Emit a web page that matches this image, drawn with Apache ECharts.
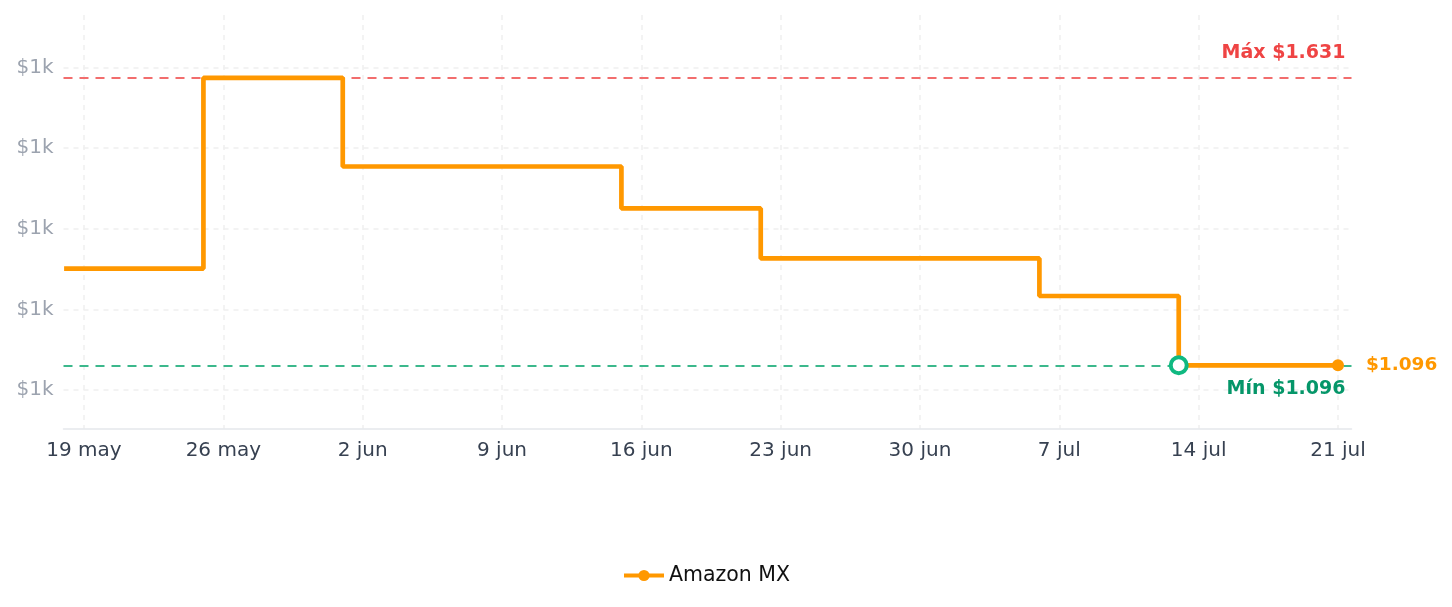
<!DOCTYPE html>
<html lang="es">
<head>
  <meta charset="UTF-8">
  <title>Historial de precio</title>
  <script src="https://cdn.jsdelivr.net/npm/echarts@6/dist/echarts.min.js"></script>
  <style>
    html, body { margin: 0; padding: 0; background: #fff; }
    #chart { width: 1452px; height: 607px; }
  </style>
</head>
<body>
  <div id="chart"></div>
  <script>
    // datos: fecha de cada cambio de precio y el precio
    var aDates = ['2024-05-18', '2024-05-25', '2024-06-01', '2024-06-15', '2024-06-22', '2024-07-06', '2024-07-13', '2024-07-21'];
    var aPrices = [1276, 1631, 1466, 1388, 1295, 1225, 1096, 1096];
    var seriesName = 'Amazon MX';
    var monthNames = ['ene', 'feb', 'mar', 'abr', 'may', 'jun', 'jul', 'ago', 'sep', 'oct', 'nov', 'dic'];
    var yTicks = [1050, 1200, 1350, 1500, 1650];

    // días contados desde el 19 may (primera marca del eje)
    var base = Date.UTC(2024, 4, 19);
    function dayOf(s) {
      var p = s.split('-');
      return (Date.UTC(+p[0], +p[1] - 1, +p[2]) - base) / 86400000;
    }
    function dayLabel(d) {
      var dt = new Date(base + d * 86400000);
      return dt.getUTCDate() + ' ' + monthNames[dt.getUTCMonth()];
    }
    function money(v) {
      return '$' + String(v).replace(/\B(?=(\d{3})+(?!\d))/g, '.');
    }

    var aData = [];
    for (var i = 0; i < aDates.length; i++) {
      aData.push([dayOf(aDates[i]), aPrices[i]]);
    }
    var minIdx = aPrices.indexOf(Math.min.apply(null, aPrices));
    var lastIdx = aData.length - 1;

    // área del gráfico y rangos de los ejes
    var W = 1452, H = 607;
    var L = 63.5, R = 1351.5, T = 15, B = 428.7;
    var XMIN = -1.03, XMAX = 63.68, YMIN = 978, YMAX = 1748;
    function px(d) { return L + (d - XMIN) / (XMAX - XMIN) * (R - L); }
    function py(v) { return B - (v - YMIN) / (YMAX - YMIN) * (B - T); }
    var xFirst = 0, xLast = 63;
    var yFirst = yTicks[0], yLast = yTicks[yTicks.length - 1];

    var font = 'DejaVu Sans';
    var gridLine = { show: true, lineStyle: { color: '#efefef', width: 1.5, type: [5, 5] } };

    var oChart = echarts.init(document.getElementById('chart'));
    var opt = {
      animation: false,
      textStyle: { fontFamily: font },
      grid: [
        { left: L, right: W - R, top: T, bottom: H - B },
        { left: px(xFirst), right: W - px(xLast), top: T, bottom: H - B },
        { left: L, right: W - R, top: py(yLast), bottom: H - py(yFirst) }
      ],
      xAxis: [
        {
          gridIndex: 0, type: 'value', min: XMIN, max: XMAX,
          axisLine: { show: true, lineStyle: { color: '#e5e7eb', width: 1.5 } },
          axisTick: { show: false }, axisLabel: { show: false }, splitLine: { show: false }
        },
        {
          gridIndex: 1, type: 'value', min: xFirst, max: xLast, interval: 7,
          axisLine: { show: false }, axisTick: { show: false },
          axisLabel: {
            color: '#374151', fontSize: 20, fontFamily: font, margin: 12,
            formatter: function (v) { return dayLabel(v); }
          },
          splitLine: gridLine
        },
        { gridIndex: 2, type: 'value', show: false, min: 0, max: 1 }
      ],
      yAxis: [
        { gridIndex: 0, type: 'value', min: YMIN, max: YMAX, show: false, splitLine: { show: false } },
        { gridIndex: 1, type: 'value', min: 0, max: 1, show: false, splitLine: { show: false } },
        {
          gridIndex: 2, type: 'value', min: yFirst, max: yLast, interval: 150,
          axisLine: { show: false }, axisTick: { show: false },
          axisLabel: {
            color: '#9ca3af', fontSize: 20, fontFamily: font, margin: 10,
            formatter: function (v) { return '$' + Math.floor(v / 1000) + 'k'; }
          },
          splitLine: gridLine
        }
      ],
      legend: {
        data: [seriesName],
        left: 617, top: 560,
        itemWidth: 40, itemHeight: 14, itemGap: 10,
        lineStyle: { width: 4 },
        itemStyle: { borderWidth: 0 },
        textStyle: { color: '#111', fontSize: 20.5, fontFamily: font }
      },
      series: [
        {
          name: seriesName,
          type: 'line',
          xAxisIndex: 0, yAxisIndex: 0,
          step: 'end',
          data: aData,
          symbol: 'circle',
          symbolSize: function (val, params) { return params.dataIndex === lastIdx ? 12 : 0; },
          showSymbol: true,
          itemStyle: { color: '#ff9800' },
          lineStyle: { color: '#ff9800', width: 4.7 },
          z: 5,
          endLabel: {
            show: true, distance: 28,
            formatter: function () { return money(aPrices[lastIdx]); },
            color: '#ff9800', fontWeight: 'bold', fontSize: 18.5, fontFamily: font
          },
          markLine: {
            silent: true, symbol: 'none', z: 3,
            data: [
              {
                type: 'max',
                lineStyle: { color: '#f26d6d', width: 2, type: [9, 7] },
                label: {
                  position: 'insideEndTop', distance: [6, 15],
                  formatter: function (p) { return 'Máx ' + money(p.value); },
                  color: '#ef4444', fontWeight: 'bold', fontSize: 19, fontFamily: font
                }
              },
              {
                type: 'min',
                lineStyle: { color: '#3cb88c', width: 2, type: [9, 7] },
                label: {
                  position: 'insideEndBottom', distance: [6, 14],
                  formatter: function (p) { return 'Mín ' + money(p.value); },
                  color: '#059669', fontWeight: 'bold', fontSize: 19, fontFamily: font
                }
              }
            ]
          },
          markPoint: {
            silent: true, symbol: 'circle', symbolSize: 16, z: 6,
            itemStyle: { color: '#ffffff', borderColor: '#10b981', borderWidth: 4 },
            label: { show: false },
            data: [{ coord: aData[minIdx] }]
          }
        }
      ]
    };
    oChart.setOption(opt);
  </script>
</body>
</html>
